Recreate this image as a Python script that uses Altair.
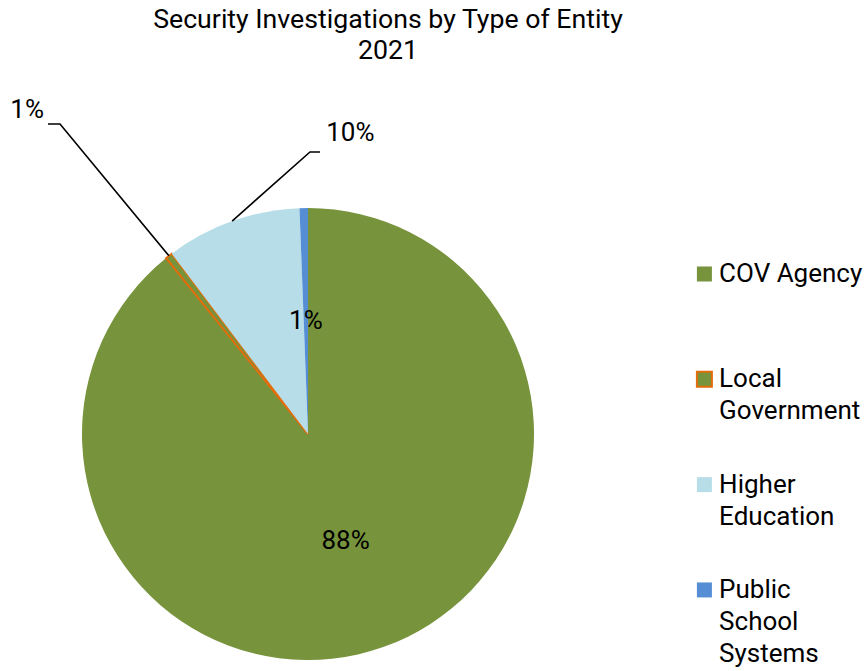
import altair as alt
import pandas as pd
import numpy as np

# ---------------- data ----------------
categories = ["COV Agency", "Local Government", "Higher Education", "Public School Systems"]
shares = [89.2, 0.5, 9.7, 0.6]
pct_labels = ["88%", "1%", "10%", "1%"]
label_inside = [True, False, False, True]
legend_labels = ["COV Agency", "Local\nGovernment", "Higher\nEducation", "Public\nSchool\nSystems"]
title_lines = ["Security Investigations by Type of Entity", "2021"]

# ---------------- styles ----------------
fill_colors = ["#77933C", "#77933C", "#B7DEE8", "#558ED5"]
stroke_colors = ["#77933C", "#E46C0A", "#B7DEE8", "#558ED5"]
stroke_widths = [0, 2, 0, 0]
FONT = "Roboto"
FS = 26

# ---------------- layout (pie radius = 1 unit) ----------------
W, H, TOP = 868, 591, 80
CX, CY, R = 308, 354, 226
xs = alt.Scale(domain=[-CX / R, (W - CX) / R], nice=False, zero=False)
ys = alt.Scale(domain=[-(H - CY) / R, CY / R], nice=False, zero=False)

# outside label placement (units) for the small slices with leader lines
outside_cats = ["Local Government", "Higher Education"]
outside_label_x = [-1.2425, 0.1872]
outside_label_y = [1.3996, 1.2978]
leader_start_x = [-1.1504, 0.0531]
leader_elbow_x = [-1.0973, 0.0088]
leader_y = [1.3717, 1.2478]

legend_x_symbol = 1.754
legend_x_text = 1.819
legend_top = 0.708
legend_step = 0.466

# ---------------- tables ----------------
pie_df = pd.DataFrame({
    "category": categories,
    "share": shares,
    "label": pct_labels,
    "inside": label_inside,
    "idx": list(range(len(categories))),
    "sw": stroke_widths,
})

# anchor points on the rim at each slice's mid-angle (clockwise from 12 o'clock)
cum = np.cumsum(shares)
total = cum[-1]
mid_angle = 2 * np.pi * (cum - np.array(shares) / 2) / total
anchor = {c: (np.sin(a), np.cos(a)) for c, a in zip(categories, mid_angle)}

lead_rows = []
for i, c in enumerate(outside_cats):
    ax, ay = anchor[c]
    lead_rows += [
        {"g": c, "o": 0, "x": leader_start_x[i], "y": leader_y[i]},
        {"g": c, "o": 1, "x": leader_elbow_x[i], "y": leader_y[i]},
        {"g": c, "o": 2, "x": float(ax), "y": float(ay)},
    ]
lead_df = pd.DataFrame(lead_rows)

out_df = pd.DataFrame({
    "category": outside_cats,
    "x": outside_label_x,
    "y": outside_label_y,
    "label": [pct_labels[categories.index(c)] for c in outside_cats],
})

leg_df = pd.DataFrame({
    "category": categories,
    "text": legend_labels,
    "sw": stroke_widths,
    "xs": legend_x_symbol,
    "xt": legend_x_text,
    "y": [legend_top - i * legend_step for i in range(len(categories))],
})

fill_scale = alt.Scale(domain=categories, range=fill_colors)
stroke_scale = alt.Scale(domain=categories, range=stroke_colors)
cx = alt.XDatum(0, type="quantitative", scale=xs, axis=None)
cy = alt.YDatum(0, type="quantitative", scale=ys, axis=None)

base = alt.Chart(pie_df)

arcs = base.mark_arc(outerRadius=R).encode(
    theta=alt.Theta("share:Q", stack=True),
    order=alt.Order("idx:Q"),
    fill=alt.Fill("category:N", scale=fill_scale, legend=None),
    stroke=alt.Stroke("category:N", scale=stroke_scale, legend=None),
    strokeWidth=alt.StrokeWidth("sw:Q", scale=None),
    x=cx, y=cy,
)

inner_text = base.transform_calculate(
    txt="datum.inside ? datum.label : ''"
).mark_text(radius=113, font=FONT, fontSize=FS, color="black").encode(
    theta=alt.Theta("share:Q", stack=True),
    order=alt.Order("idx:Q"),
    detail="category:N",
    text="txt:N",
    x=cx, y=cy,
)

leaders = alt.Chart(lead_df).mark_line(color="black", strokeWidth=1.6).encode(
    x=alt.X("x:Q", scale=xs, axis=None),
    y=alt.Y("y:Q", scale=ys, axis=None),
    detail="g:N",
    order="o:Q",
)

outer_text = alt.Chart(out_df).mark_text(
    font=FONT, fontSize=FS, color="black", align="center", baseline="alphabetic"
).encode(
    x=alt.X("x:Q", scale=xs, axis=None),
    y=alt.Y("y:Q", scale=ys, axis=None),
    text="label:N",
)

leg_sym = alt.Chart(leg_df).mark_square(size=225, opacity=1, filled=True).encode(
    x=alt.X("xs:Q", scale=xs, axis=None),
    y=alt.Y("y:Q", scale=ys, axis=None),
    fill=alt.Fill("category:N", scale=fill_scale, legend=None),
    stroke=alt.Stroke("category:N", scale=stroke_scale, legend=None),
    strokeWidth=alt.StrokeWidth("sw:Q", scale=None),
)

leg_text = alt.Chart(leg_df).mark_text(
    font=FONT, fontSize=FS, color="black", align="left", baseline="alphabetic",
    dy=8, lineBreak="\n", lineHeight=32,
).encode(
    x=alt.X("xt:Q", scale=xs, axis=None),
    y=alt.Y("y:Q", scale=ys, axis=None),
    text="text:N",
)

chart = alt.layer(arcs, inner_text, leaders, outer_text, leg_sym, leg_text).properties(
    width=W, height=H,
    autosize=alt.AutoSizeParams(type="none"),
    padding={"top": TOP, "left": 0, "right": 0, "bottom": 0},
    title=alt.TitleParams(
        text=title_lines, font=FONT, fontSize=26.7, fontWeight="normal", color="black",
        lineHeight=31, anchor="middle", dx=-46, offset=15,
    ),
).configure_view(stroke=None)

chart.save("out.html", embed_options={"renderer": "svg", "actions": False})
